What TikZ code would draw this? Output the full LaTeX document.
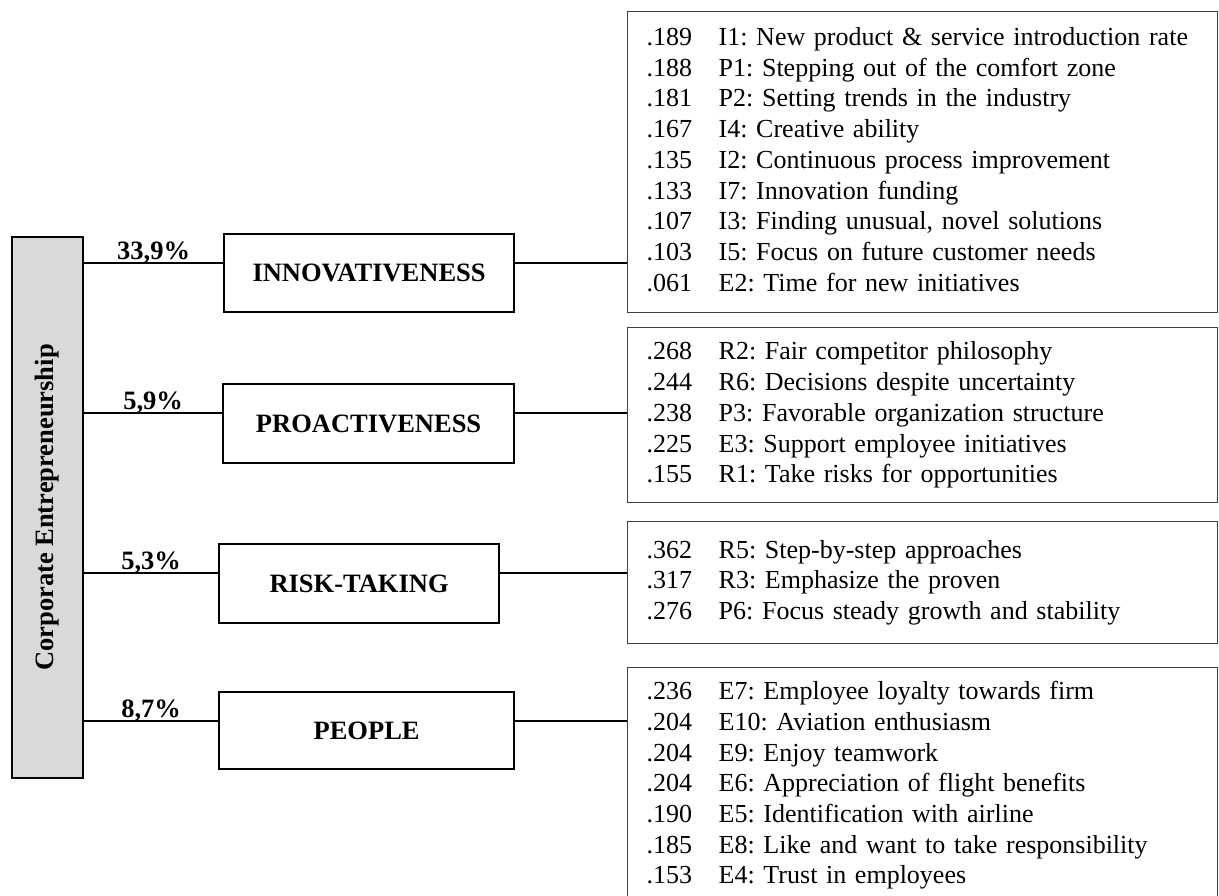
\documentclass[tikz,border=0pt]{standalone}
\usepackage{fontspec}
\setmainfont{Liberation Serif}
\frenchspacing
\definecolor{cegray}{HTML}{D9D9D9}

\begin{document}
\begin{tikzpicture}[
    x=0.5pt, y=-0.5pt,
    every node/.style={font=\fontsize{13}{15.35}\selectfont},
    catbox/.style={draw,line width=1.1pt,anchor=north west,inner sep=0pt,
        font=\fontsize{13.25}{15.35}\selectfont\bfseries},
    listbox/.style={draw=black!75,line width=0.7pt,anchor=north west,
        text width=276pt,inner xsep=9.5pt,inner ysep=0pt,align=left},
    link/.style={line width=1pt},
    pct/.style={midway,anchor=base,yshift=2pt,inner sep=0pt,
        font=\fontsize{13.25}{15.35}\selectfont\bfseries}]
    \useasboundingbox (0,0) rectangle (1219,895);
    \clip (0,0) rectangle (1219,895);

    % construct and its dimensions
    \node[draw,line width=1.3pt,fill=cegray,minimum width=35.5pt,
        minimum height=270.5pt,inner sep=0pt] (ce) at (47.5,507.5)
        {\rotatebox{90}{\fontsize{13.25}{15.35}\selectfont\bfseries Corporate Entrepreneurship}};
    \node[catbox,minimum width=145pt,minimum height=39pt] (innov) at (223,233) {INNOVATIVENESS};
    \node[catbox,minimum width=145.5pt,minimum height=39.5pt] (proact) at (222,383) {PROACTIVENESS};
    \node[catbox,minimum width=140pt,minimum height=39.5pt] (risk) at (218,543) {RISK-TAKING};
    \node[catbox,minimum width=147.5pt,minimum height=38.5pt] (people) at (218,691) {PEOPLE};

    % item weights
    \node[listbox,minimum height=150.5pt] (list1) at (627,11) {%
        \begin{tabular}{@{}p{36pt}@{}l@{}}
        .189 & I1: New product \& service introduction rate \\
        .188 & P1: Stepping out of the comfort zone \\
        .181 & P2: Setting trends in the industry \\
        .167 & I4: Creative ability \\
        .135 & I2: Continuous process improvement \\
        .133 & I7: Innovation funding \\
        .107 & I3: Finding unusual, novel solutions \\
        .103 & I5: Focus on future customer needs \\
        .061 & E2: Time for new initiatives
        \end{tabular}};
    \node[listbox,minimum height=87.5pt] (list2) at (627,327) {%
        \begin{tabular}{@{}p{36pt}@{}l@{}}
        .268 & R2: Fair competitor philosophy \\
        .244 & R6: Decisions despite uncertainty \\
        .238 & P3: Favorable organization structure \\
        .225 & E3: Support employee initiatives \\
        .155 & R1: Take risks for opportunities
        \end{tabular}};
    \node[listbox,minimum height=61pt] (list3) at (627,521) {%
        \begin{tabular}{@{}p{36pt}@{}l@{}}
        .362 & R5: Step-by-step approaches \\
        .317 & R3: Emphasize the proven \\
        .276 & P6: Focus steady growth and stability
        \end{tabular}};
    \node[listbox,minimum height=118pt] (list4) at (627,667) {%
        \begin{tabular}{@{}p{36pt}@{}l@{}}
        .236 & E7: Employee loyalty towards firm \\
        .204 & E10: Aviation enthusiasm \\
        .204 & E9: Enjoy teamwork \\
        .204 & E6: Appreciation of flight benefits \\
        .190 & E5: Identification with airline \\
        .185 & E8: Like and want to take responsibility \\
        .153 & E4: Trust in employees
        \end{tabular}};

    % connectors
    \path (innov.north west) ++(0,30) coordinate (innov-l);
    \path (proact.north west) ++(0,30) coordinate (proact-l);
    \path (risk.north west) ++(0,30) coordinate (risk-l);
    \path (people.north west) ++(0,30) coordinate (people-l);
    \draw[link] (ce.east |- innov-l) -- node[pct] {33,9\%} (innov-l);
    \draw[link] (ce.east |- proact-l) -- node[pct] {5,9\%} (proact-l);
    \draw[link] (ce.east |- risk-l) -- node[pct] {5,3\%} (risk-l);
    \draw[link] (ce.east |- people-l) -- node[pct] {8,7\%} (people-l);
    \draw[link] (innov.east |- innov-l) -- (list1.west |- innov-l);
    \draw[link] (proact.east |- proact-l) -- (list2.west |- proact-l);
    \draw[link] (risk.east |- risk-l) -- (list3.west |- risk-l);
    \draw[link] (people.east |- people-l) -- (list4.west |- people-l);
\end{tikzpicture}
\end{document}
